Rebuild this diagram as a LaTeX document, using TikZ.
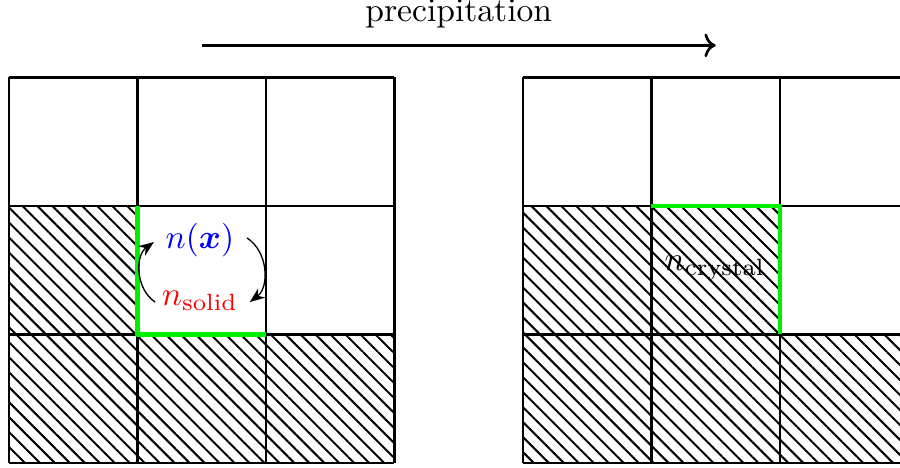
\documentclass[tikz,border=0pt]{standalone}
\usepackage{amsmath,amssymb}
\usepackage{xcolor}
\usepackage{tikz}
\usetikzlibrary{arrows.meta,patterns.meta}

\definecolor{brightgreen}{RGB}{0,240,0}

\begin{document}
\begin{tikzpicture}[x=1.344cm,y=1.344cm,line join=round,
    gridline/.style={thick},
    solidcell/.style={pattern={Lines[angle=-45,distance=3.15pt,line width=0.6pt]}},
    front/.style={brightgreen,line width=1.3pt},
    flux/.style={-{Stealth[length=4.5pt,width=3.5pt]},bend left=55}]
  \useasboundingbox (-0.07,-0.039) rectangle (6.934,3.603);
  \clip (-0.07,-0.039) rectangle (6.934,3.603);
  % hatched (solid) cells, left
  \fill[solidcell] (0,0) rectangle (3,1);
  \fill[solidcell] (0,1) rectangle (1,2);
  % hatched (solid) cells, right
  \fill[solidcell] (4,0) rectangle (7,1);
  \fill[solidcell] (4,1) rectangle (6,2);
  % grids
  \foreach \ox in {0,4} {
    \foreach \i in {0,...,3} {
      \draw[gridline] (\ox+\i,0) -- (\ox+\i,3);
      \draw[gridline] (\ox,\i) -- (\ox+3,\i);
    }
  }
  % interfaces
  \draw[front] (1,2) -- (1,1) -- (2,1);
  \draw[front] (5,2) -- (6,2) -- (6,1);
  % top arrow
  \coordinate (A0) at (1.5,3.25);
  \coordinate (A1) at (5.5,3.25);
  \draw[thick,->] (A0) -- (A1) node[midway,above=1.5pt] (lbl) {precipitation};
  % labels
  \node[blue] (nx) at (1.486,1.735) {$n(\boldsymbol{x})$};
  \node[red] (ns) at (1.486,1.265) {$n_{\text{solid}}$};
  \node (nc) at (5.494,1.517) {$n_{\text{crystal}}$};
  \draw[flux] ([xshift=1.5pt,yshift=-0.5pt]ns.west) to ([yshift=-0.6pt]nx.west);
  \draw[flux] ([xshift=0.3pt,yshift=0.6pt]nx.east) to ([yshift=-0.5pt]ns.east);
\end{tikzpicture}
\end{document}
